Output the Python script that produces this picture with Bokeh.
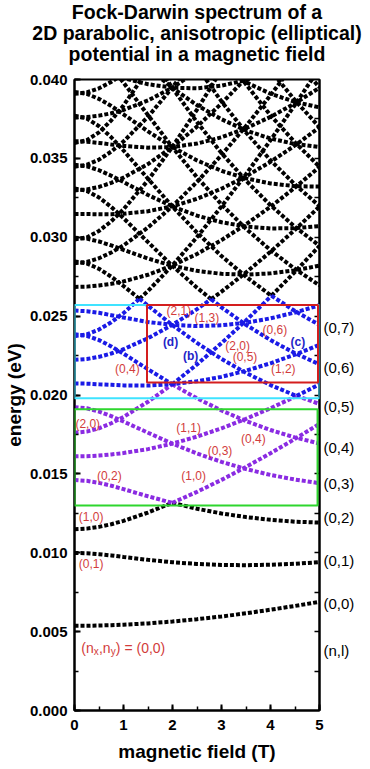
import numpy as np
from bokeh.plotting import figure
from bokeh.models import (Range1d, SingleIntervalTicker, LinearAxis, NumeralTickFormatter,
                          BoxAnnotation, Label, ColumnDataSource, FixedTicker,
                          CustomJSTickFormatter, Title)
from bokeh.embed import file_html
from bokeh.resources import INLINE

# ---------------- data (energies in meV) ----------------
field_T = [0, 0.25, 0.5, 0.75, 1.0, 1.5, 2.0, 2.5, 3.0, 3.5, 4.0, 4.5, 5.0]

level_0_0 = [5.37, 5.37, 5.39, 5.41, 5.44, 5.52, 5.64, 5.79, 5.96, 6.16, 6.39, 6.63, 6.89]
level_0_1 = [9.99, 9.97, 9.91, 9.83, 9.73, 9.55, 9.40, 9.29, 9.23, 9.21, 9.24, 9.30, 9.40]
level_1_0 = [11.49, 11.53, 11.64, 11.81, 12.02, 12.55, 13.17, 13.86, 14.62, 15.44, 16.31, 17.22, 18.17]
level_0_2 = [14.61, 14.56, 14.43, 14.25, 14.03, 13.58, 13.16, 12.79, 12.49, 12.26, 12.09, 11.97, 11.91]
level_1_1 = [16.11, 16.12, 16.16, 16.23, 16.32, 16.57, 16.92, 17.36, 17.89, 18.49, 19.16, 19.89, 20.68]
level_2_0 = [17.61, 17.68, 17.89, 18.21, 18.61, 19.57, 20.69, 21.94, 23.29, 24.72, 26.23, 27.81, 29.45]
level_0_3 = [19.23, 19.16, 18.95, 18.66, 18.32, 17.61, 16.91, 16.29, 15.76, 15.31, 14.93, 14.64, 14.41]
level_1_2 = [20.73, 20.72, 20.68, 20.65, 20.61, 20.60, 20.68, 20.87, 21.15, 21.54, 22.01, 22.56, 23.18]
level_2_1 = [22.23, 22.28, 22.42, 22.63, 22.90, 23.60, 24.45, 25.44, 26.55, 27.77, 29.08, 30.48, 31.95]
level_3_0 = [23.73, 23.84, 24.15, 24.61, 25.19, 26.59, 28.22, 30.01, 31.95, 34.00, 36.15, 38.40, 40.72]
level_0_4 = [23.85, 23.75, 23.48, 23.08, 22.62, 21.63, 20.67, 19.79, 19.02, 18.35, 17.78, 17.31, 16.92]
level_1_3 = [25.35, 25.31, 25.21, 25.06, 24.91, 24.63, 24.44, 24.37, 24.42, 24.58, 24.86, 25.23, 25.69]
level_2_2 = [26.85, 26.87, 26.94, 27.05, 27.20, 27.62, 28.21, 28.94, 29.82, 30.82, 31.93, 33.15, 34.46]
level_3_1 = [28.35, 28.43, 28.67, 29.03, 29.48, 30.62, 31.97, 33.51, 35.21, 37.05, 39.00, 41.07, 43.23]
level_4_0 = [29.85, 29.99, 30.40, 31.01, 31.77, 33.61, 35.74, 38.09, 40.61, 43.28, 46.08, 48.99, 52.00]
level_0_5 = [28.47, 28.34, 28.00, 27.50, 26.91, 25.66, 24.43, 23.30, 22.29, 21.40, 20.63, 19.98, 19.43]
level_1_4 = [29.97, 29.91, 29.73, 29.48, 29.20, 28.65, 28.19, 27.87, 27.68, 27.63, 27.71, 27.90, 28.20]
level_2_3 = [31.47, 31.47, 31.46, 31.46, 31.49, 31.65, 31.96, 32.44, 33.08, 33.86, 34.78, 35.82, 36.97]
level_3_2 = [32.97, 33.03, 33.19, 33.45, 33.78, 34.64, 35.73, 37.01, 38.48, 40.09, 41.85, 43.74, 45.74]
level_4_1 = [34.47, 34.59, 34.92, 35.43, 36.07, 37.64, 39.50, 41.59, 43.87, 46.32, 48.93, 51.66, 54.51]
level_5_0 = [35.97, 36.15, 36.65, 37.41, 38.35, 40.63, 43.27, 46.16, 49.27, 52.56, 56.00, 59.58, 63.27]
level_0_6 = [33.09, 32.94, 32.52, 31.92, 31.21, 29.69, 28.18, 26.80, 25.55, 24.45, 23.48, 22.65, 21.94]
level_1_5 = [34.59, 34.50, 34.25, 33.90, 33.50, 32.68, 31.95, 31.37, 30.95, 30.68, 30.56, 30.57, 30.71]
level_2_4 = [36.09, 36.06, 35.98, 35.88, 35.79, 35.68, 35.72, 35.94, 36.34, 36.91, 37.63, 38.49, 39.48]
level_3_3 = [37.59, 37.62, 37.71, 37.86, 38.07, 38.67, 39.49, 40.52, 41.74, 43.14, 44.70, 46.41, 48.24]
level_4_2 = [39.09, 39.18, 39.44, 39.85, 40.36, 41.67, 43.26, 45.09, 47.14, 49.37, 51.78, 54.33, 57.01]
level_0_7 = [37.71, 37.53, 37.04, 36.34, 35.50, 33.71, 31.94, 30.30, 28.81, 27.50, 26.33, 25.32, 24.44]
level_1_6 = [39.21, 39.09, 38.77, 38.32, 37.79, 36.71, 35.71, 34.87, 34.21, 33.73, 33.41, 33.24, 33.21]
level_2_5 = [40.71, 40.65, 40.50, 40.30, 40.08, 39.70, 39.48, 39.44, 39.61, 39.96, 40.48, 41.16, 41.98]
level_0_8 = [42.33, 42.13, 41.56, 40.75, 39.80, 37.74, 35.70, 33.80, 32.08, 30.54, 29.18, 27.99, 26.95]
level_1_7 = [43.83, 43.69, 43.29, 42.74, 42.09, 40.74, 39.47, 38.37, 37.48, 36.77, 36.26, 35.91, 35.72]
level_0_9 = [46.95, 46.72, 46.09, 45.17, 44.09, 41.77, 39.45, 37.30, 35.34, 33.59, 32.03, 30.66, 29.46]
level_1_8 = [48.45, 48.28, 47.82, 47.15, 46.38, 44.76, 43.22, 41.87, 40.74, 39.82, 39.10, 38.58, 38.23]
level_0_10 = [51.57, 51.31, 50.61, 49.59, 48.39, 45.79, 43.21, 40.80, 38.61, 36.64, 34.88, 33.34, 31.97]
level_0_11 = [56.19, 55.91, 55.13, 54.01, 52.68, 49.82, 46.97, 44.30, 41.87, 39.69, 37.73, 36.01, 34.47]
level_0_12 = [60.81, 60.50, 59.65, 58.43, 56.98, 53.85, 50.73, 47.81, 45.14, 42.73, 40.58, 38.68, 36.98]
level_0_13 = [65.43, 65.10, 64.17, 62.84, 61.27, 57.88, 54.48, 51.31, 48.40, 45.78, 43.43, 41.35, 39.49]

all_levels = [level_0_0, level_0_1, level_1_0, level_0_2, level_1_1, level_2_0, level_0_3,
              level_1_2, level_2_1, level_3_0, level_0_4, level_1_3, level_2_2, level_3_1,
              level_4_0, level_0_5, level_1_4, level_2_3, level_3_2, level_4_1, level_5_0,
              level_0_6, level_1_5, level_2_4, level_3_3, level_4_2, level_0_7, level_1_6,
              level_2_5, level_0_8, level_1_7, level_0_9, level_1_8, level_0_10, level_0_11,
              level_0_12, level_0_13]

# in-plot state labels (text, B [T], E [meV])
red_labels = [("(2,1)", 2.13, 25.33), ("(1,3)", 2.70, 24.85), ("(0,6)", 4.09, 24.13),
              ("(2,0)", 3.33, 23.12), ("(0,5)", 3.48, 22.39), ("(1,2)", 4.26, 21.65),
              ("(0,4)", 1.08, 21.65), ("(2,0)", 0.27, 18.16), ("(1,1)", 2.33, 17.89),
              ("(0,4)", 3.65, 17.22), ("(0,3)", 2.97, 16.47), ("(0,2)", 0.71, 14.89),
              ("(1,0)", 2.43, 14.85), ("(1,0)", 0.34, 12.26), ("(0,1)", 0.34, 9.30)]
blue_labels = [("(d)", 1.96, 23.33), ("(b)", 2.37, 22.49), ("(c)", 4.56, 23.33)]
# right-hand (n,l) labels at B = 5 T (E in meV)
right_label_text = ["(0,7)", "(0,6)", "(0,5)", "(0,4)", "(0,3)", "(0,2)", "(0,1)", "(0,0)", "(n,l)"]
right_label_E = [24.28, 21.75, 19.28, 16.69, 14.37, 12.26, 9.51, 6.77, 3.82]

title_lines = ["Fock-Darwin spectrum of a", "2D parabolic, anisotropic (elliptical)",
               "potential in a magnetic field"]

# ---------------- styles ----------------
BLACK = "#000000"
PURPLE = "#8A2BE2"
BLUE = "#1A1AE6"
RED_TXT = "#D23C3C"
FONT = "Liberation Sans"


def colour_for(rank):
    if rank <= 3:
        return BLACK
    if rank <= 7:
        return PURPLE
    if rank <= 12:
        return BLUE
    return BLACK


Bf = np.array(field_T, dtype=float)
E = np.array(all_levels, dtype=float) / 1000.0
n = len(E)

# split each polyline where it crosses another, so colour follows the level order
xs, ys, cs = [], [], []
for s in range(n):
    cur_x, cur_y, cur_c = [], [], None
    for i in range(len(Bf) - 1):
        e0, e1 = E[:, i], E[:, i + 1]
        d0 = e0[s] - e0
        d1 = e1[s] - e1
        cuts = {0.0, 1.0}
        for t in range(n):
            if t != s and d0[t] * d1[t] < 0:
                cuts.add(d0[t] / (d0[t] - d1[t]))
        cuts = sorted(cuts)
        for f0, f1 in zip(cuts[:-1], cuts[1:]):
            if f1 - f0 < 1e-9:
                continue
            fm = 0.5 * (f0 + f1)
            em = e0 + (e1 - e0) * fm
            rank = int(np.sum(em < em[s])) + 1
            c = colour_for(rank)
            xa = Bf[i] + (Bf[i + 1] - Bf[i]) * f0
            ya = e0[s] + (e1[s] - e0[s]) * f0
            xb = Bf[i] + (Bf[i + 1] - Bf[i]) * f1
            yb = e0[s] + (e1[s] - e0[s]) * f1
            if c != cur_c:
                if cur_c is not None:
                    xs.append(cur_x); ys.append(cur_y); cs.append(cur_c)
                cur_x, cur_y, cur_c = [xa], [ya], c
            cur_x.append(xb); cur_y.append(yb)
    xs.append(cur_x); ys.append(cur_y); cs.append(cur_c)

order = sorted(range(len(cs)), key=lambda k: {BLACK: 0, PURPLE: 1, BLUE: 2}[cs[k]])
src = ColumnDataSource(dict(xs=[xs[k] for k in order], ys=[ys[k] for k in order],
                            c=[cs[k] for k in order]))

p = figure(width=364, height=765, x_range=Range1d(0, 5), y_range=Range1d(0, 0.040),
           output_backend="svg", toolbar_location=None,
           min_border_left=73, min_border_right=45, min_border_top=78, min_border_bottom=55,
           background_fill_color="white", border_fill_color="white")
p.grid.visible = False
p.outline_line_color = "black"
p.outline_line_width = 2

p.multi_line("xs", "ys", source=src, line_color="c", line_width=4, line_dash="4 2")

p.xaxis.ticker = SingleIntervalTicker(interval=1, num_minor_ticks=2)
p.yaxis.ticker = SingleIntervalTicker(interval=0.005, num_minor_ticks=2)
p.yaxis.formatter = NumeralTickFormatter(format="0.000")
p.xaxis.axis_label = "magnetic field (T)"
p.yaxis.axis_label = "energy (eV)"

right_vals = [e / 1000 for e in right_label_E]
right_axis = LinearAxis(
    ticker=FixedTicker(ticks=right_vals, minor_ticks=[0.0025 * k for k in range(1, 16)]),
    formatter=CustomJSTickFormatter(args=dict(vals=right_vals, labs=right_label_text), code="""
        for (let i = 0; i < vals.length; i++) {
            if (Math.abs(tick - vals[i]) < 1e-7) { return labs[i]; }
        }
        return "";
    """))
p.add_layout(right_axis, "right")

for ax in list(p.xaxis) + list(p.yaxis):
    ax.axis_line_width = 2
    ax.major_tick_line_width = 2
    ax.minor_tick_line_width = 1.5
    ax.major_tick_in = 6
    ax.major_tick_out = 0
    ax.minor_tick_in = 4
    ax.minor_tick_out = 0
    ax.major_label_text_font = FONT
    ax.major_label_text_font_style = "bold"
    ax.axis_label_text_font = FONT
    ax.axis_label_text_font_style = "bold"
    ax.axis_label_text_font_size = "19px"
    ax.axis_label_text_color = "black"
    ax.major_label_text_color = "black"
    ax.major_label_text_font_size = "15px"
for ax in p.xaxis:
    ax.major_label_standoff = 9
    ax.axis_label_standoff = 8
p.yaxis[0].major_label_standoff = 7
p.yaxis[0].axis_label_standoff = 2

right_axis.major_tick_in = 0
right_axis.minor_tick_in = 5
right_axis.minor_tick_line_width = 1.5
right_axis.major_label_text_font_style = "normal"
right_axis.major_label_standoff = 4

# highlight boxes
for (l, r, b, t, col) in [(0, 5.0, 0.0198, 0.0257, "#3FE3FF"),
                          (1.48, 4.97, 0.0208, 0.0257, "#D41E1E"),
                          (0, 4.96, 0.0130, 0.0191, "#2ED62E")]:
    p.add_layout(BoxAnnotation(left=l, right=r, bottom=b, top=t, fill_alpha=0,
                               fill_color=None, line_color=col, line_width=2, line_alpha=1))

for txt, bx, ey in red_labels:
    p.add_layout(Label(x=bx, y=ey / 1000, text=txt, text_font=FONT, text_font_size="12px",
                       text_color=RED_TXT, text_align="center", text_baseline="middle"))
for txt, bx, ey in blue_labels:
    p.add_layout(Label(x=bx, y=ey / 1000, text=txt, text_font=FONT, text_font_size="12px",
                       text_font_style="bold", text_color="#2323C8", text_align="center",
                       text_baseline="middle"))

# (n_x,n_y) = (0,0) with subscripts
base_x, base_y = 0.14, 0.00399
pieces = [("(n", 0, 14, 0), ("x", 12.4, 10, -4), (",n", 17.6, 14, 0), ("y", 29.3, 10, -4),
          (") = (0,0)", 34.5, 14, 0)]
for txt, dx, fs, dy in pieces:
    p.add_layout(Label(x=base_x, y=base_y, x_offset=dx, y_offset=dy, text=txt, text_font=FONT,
                       text_font_size=f"{fs}px", text_color=RED_TXT, text_align="left",
                       text_baseline="middle"))

# three centred title lines above a small spacer (the last added sits on top)
p.title.visible = False
p.add_layout(Title(text=" ", text_font_size="1px", standoff=13), "above")
for txt in [title_lines[2], title_lines[1], title_lines[0]]:
    p.add_layout(Title(text=txt, align="center", text_font=FONT, text_font_size="19.5px",
                       text_font_style="bold", text_color="black", standoff=-3), "above")

open("out.html", "w").write(file_html(p, INLINE))
